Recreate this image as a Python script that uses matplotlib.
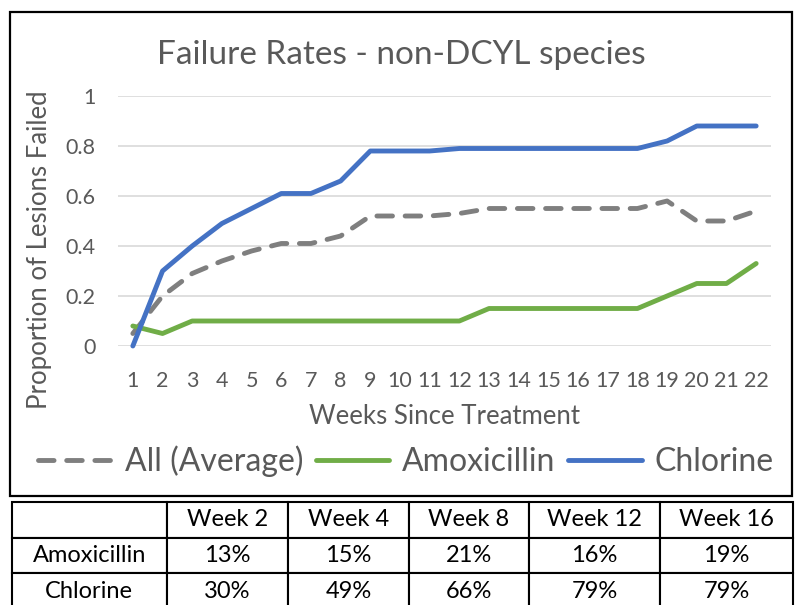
import matplotlib.pyplot as plt
from matplotlib.patches import Rectangle

plt.rcParams['font.family'] = ['Lato', 'DejaVu Sans']

# data
weeks = list(range(1, 23))
avg_all = [0.05, 0.20, 0.29, 0.34, 0.38, 0.41, 0.41, 0.44, 0.52, 0.52, 0.52,
           0.53, 0.55, 0.55, 0.55, 0.55, 0.55, 0.55, 0.58, 0.50, 0.50, 0.54]
amoxicillin = [0.08, 0.05, 0.10, 0.10, 0.10, 0.10, 0.10, 0.10, 0.10, 0.10, 0.10,
               0.10, 0.15, 0.15, 0.15, 0.15, 0.15, 0.15, 0.20, 0.25, 0.25, 0.33]
chlorine = [0.00, 0.30, 0.40, 0.49, 0.55, 0.61, 0.61, 0.66, 0.78, 0.78, 0.78,
            0.79, 0.79, 0.79, 0.79, 0.79, 0.79, 0.79, 0.82, 0.88, 0.88, 0.88]

table_cols = ["", "Week 2", "Week 4", "Week 8", "Week 12", "Week 16"]
table_rows = ["Amoxicillin", "Chlorine"]
table_vals = [["13%", "15%", "21%", "16%", "19%"],
              ["30%", "49%", "66%", "79%", "79%"]]

W, H = 795, 605
TXT = "#595959"

fig = plt.figure(figsize=(W / 100, H / 100), dpi=100)


def fx(px):
    return px / W


def fy(py):
    return 1 - py / H


# chart frame
fig.patches.append(Rectangle((fx(10), fy(496)), fx(782), 484 / H, transform=fig.transFigure,
                             fill=False, edgecolor="black", linewidth=1.6))

ax = fig.add_axes([fx(118), fy(346), fx(653), 250 / H])

ax.plot(weeks, avg_all, color="#7F7F7F", linewidth=3.5, linestyle=(0, (3.2, 2.6)),
        dash_capstyle="round", solid_capstyle="round", label="All (Average)", clip_on=False)
ax.plot(weeks, amoxicillin, color="#70AD47", linewidth=3.5, solid_capstyle="round",
        label="Amoxicillin", clip_on=False)
ax.plot(weeks, chlorine, color="#4472C4", linewidth=3.5, solid_capstyle="round",
        label="Chlorine", clip_on=False)

ax.set_xlim(0.5, 22.5)
ax.set_ylim(0, 1)
ax.set_xticks(weeks)
ax.set_yticks([0, 0.2, 0.4, 0.6, 0.8, 1])
ax.set_yticklabels(["0", "0.2", "0.4", "0.6", "0.8", "1"])
ax.grid(axis="y", color="#D9D9D9", linewidth=1.2)
ax.set_axisbelow(True)
for s in ax.spines.values():
    s.set_visible(False)
ax.tick_params(length=0, labelsize=15.5, labelcolor=TXT)
ax.tick_params(axis="x", pad=18)
ax.tick_params(axis="y", pad=16)

fig.text(fx(401), fy(55), "Failure Rates - non-DCYL species", fontsize=24, color=TXT,
         ha="center", va="center")
ax.set_xlabel("Weeks Since Treatment", fontsize=18.5, color=TXT, va="center")
ax.xaxis.set_label_coords(0.5, (346 - 416) / 250)
ax.set_ylabel("Proportion of Lesions Failed", fontsize=18.5, color=TXT, va="center")
ax.yaxis.set_label_coords((40 - 118) / 653, (346 - 250) / 250)

fig.legend(loc="center", bbox_to_anchor=(fx(406), fy(461)), ncol=3, frameon=False,
           fontsize=23, labelcolor=TXT, handlelength=2.3, handletextpad=0.4,
           columnspacing=0.4)

# summary table under the chart
tax = fig.add_axes([fx(12), fy(609), fx(781), 107 / H])
tax.axis("off")
cells = [[r] + v for r, v in zip(table_rows, table_vals)]
tbl = tax.table(cellText=[table_cols] + cells, cellLoc="center",
                colWidths=[155, 122, 121, 120, 132, 133], bbox=[0, 0, 1, 1])
tbl.auto_set_font_size(False)
tbl.set_fontsize(17)
for (r, c), cell in tbl.get_celld().items():
    cell.set_edgecolor("black")
    cell.set_linewidth(1.5)
    cell.set_clip_on(False)

fig.savefig("out.png", dpi=100)
